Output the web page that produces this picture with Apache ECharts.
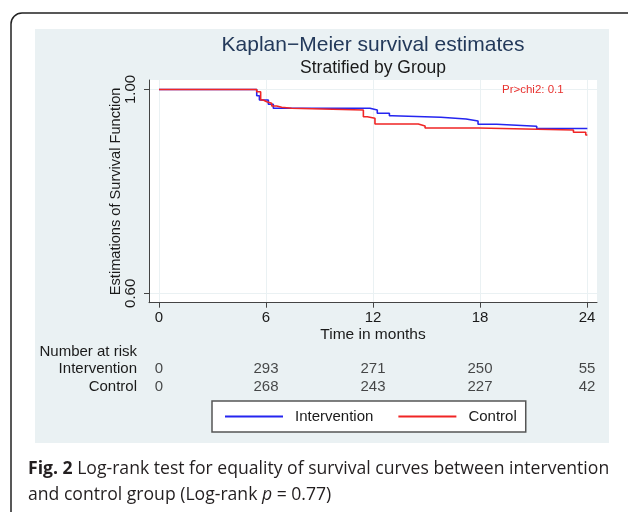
<!DOCTYPE html>
<html>
<head>
<meta charset="utf-8">
<script src="https://cdn.jsdelivr.net/npm/echarts@6/dist/echarts.min.js"></script>
<style>html,body{margin:0;padding:0;background:#fff;}#c{width:628px;height:512px;}</style>
</head>
<body>
<div id="c"></div>
<script>
// ---- data ----
const xTicks = [0, 6, 12, 18, 24];
const yTicks = [0.6, 1.0];
const groups = ['Intervention', 'Control'];
// Kaplan-Meier step points [month, survival]
const interventionKM = [
  [0, 1.0], [5.48, 0.9878], [5.63, 0.9794], [6.13, 0.9710], [6.41, 0.9631],
  [11.83, 0.9598], [12.24, 0.9533], [12.92, 0.9486], [13.08, 0.9454],
  [15.80, 0.9421], [17.22, 0.9382], [17.89, 0.9317], [18.94, 0.9278],
  [21.18, 0.9235], [24.02, 0.9235]
];
const controlKM = [
  [0, 1.0], [5.48, 0.9957], [5.70, 0.9794], [5.85, 0.9761], [6.04, 0.9729],
  [6.32, 0.9676], [6.60, 0.9651], [6.88, 0.9631], [7.44, 0.9598],
  [11.46, 0.9466], [11.68, 0.9435], [12.11, 0.9323], [14.54, 0.9284],
  [14.92, 0.9244], [17.91, 0.9205], [23.24, 0.9160], [23.93, 0.9107],
  [24.02, 0.9107]
];
const riskTimes = [0, 6, 12, 18, 24];
const riskIntervention = [0, 293, 271, 250, 55];
const riskControl = [0, 268, 243, 227, 42];

const chart = echarts.init(document.getElementById('c'), null, {renderer: 'canvas'});
const FONT = 'Liberation Sans';
const txt = '#1a1a1a';
const CAP = 'Open Sans';

function riskData(vals, row) {
  return riskTimes.map((t, i) => [t, row, vals[i]]);
}

const option = {
  backgroundColor: '#ffffff',
  animation: false,
  textStyle: {fontFamily: FONT},
  graphic: [
    {type: 'rect', z: -10, shape: {x: 11, y: 13, width: 640, height: 520, r: 11},
     style: {fill: '#ffffff', stroke: '#222', lineWidth: 1.5}},
    {type: 'rect', z: -9, shape: {x: 35, y: 29, width: 574, height: 414},
     style: {fill: '#eaf1f3'}},
    {type: 'text', x: 373, y: 45, style: {text: 'Kaplan\u2212Meier survival estimates', fontFamily: FONT, fontSize: 21, fill: '#23395a', align: 'center', verticalAlign: 'middle'}},
    {type: 'text', x: 373, y: 68, style: {text: 'Stratified by Group', fontFamily: FONT, fontSize: 17.5, fill: txt, align: 'center', verticalAlign: 'middle'}},
    {type: 'text', z: 100, x: 502, y: 90, style: {text: 'Pr>chi2: 0.1', fontFamily: FONT, fontSize: 11.5, fill: '#e8322f', align: 'left', verticalAlign: 'middle'}},
    {type: 'text', x: 137, y: 352, style: {text: 'Number at risk', fontFamily: FONT, fontSize: 15, fill: txt, align: 'right', verticalAlign: 'middle'}},
    {type: 'text', x: 28, y: 469, style: {
      text: '{b|Fig. 2} Log-rank test for equality of survival curves between intervention',
      fontFamily: CAP, fontSize: 17.6, fill: '#231f20', verticalAlign: 'middle',
      rich: {b: {fontWeight: 'bold', fontFamily: CAP, fontSize: 17.6, fill: '#231f20'}}}},
    {type: 'text', x: 28, y: 495, style: {
      text: 'and control group (Log-rank {i|p} = 0.77)',
      fontFamily: CAP, fontSize: 17.6, fill: '#231f20', verticalAlign: 'middle',
      rich: {i: {fontStyle: 'italic', fontFamily: CAP, fontSize: 17.6, fill: '#231f20'}}}}
  ],
  legend: {
    data: groups,
    left: 212, top: 401,
    padding: [8, 9, 8, 13],
    backgroundColor: '#ffffff',
    borderColor: '#555', borderWidth: 1.5,
    icon: 'rect', itemWidth: 58, itemHeight: 2, itemGap: 25,
    textStyle: {fontFamily: FONT, fontSize: 15, color: txt, padding: [0, 0, 0, 7]}
  },
  grid: [
    {left: 149, top: 80, width: 448, height: 222.7, show: true, backgroundColor: '#ffffff', borderWidth: 0},
    {left: 149, top: 360, width: 448, height: 36, show: false}
  ],
  xAxis: [
    {type: 'value', gridIndex: 0, min: -0.561, max: 24.561,
     axisLine: {show: true, onZero: false, lineStyle: {color: '#444', width: 1}},
     axisTick: {show: true, customValues: xTicks, length: 5, lineStyle: {color: '#444'}},
     axisLabel: {customValues: xTicks, fontSize: 15, color: txt, margin: 8, fontFamily: FONT},
     splitLine: {show: true, lineStyle: {color: '#eaf1f3', width: 1}},
     name: 'Time in months', nameLocation: 'middle', nameGap: 24, nameMoveOverlap: false,
     nameTextStyle: {fontSize: 15.5, color: txt, fontFamily: FONT}},
    {type: 'value', gridIndex: 1, min: -0.561, max: 24.561, show: false}
  ],
  yAxis: [
    {type: 'value', gridIndex: 0, min: 0.5816, max: 1.01865,
     axisLine: {show: true, onZero: false, lineStyle: {color: '#444', width: 1}},
     axisTick: {show: true, customValues: yTicks, length: 5, lineStyle: {color: '#444'}},
     axisLabel: {customValues: yTicks, rotate: 90, fontSize: 15, color: txt, margin: 11, fontFamily: FONT,
       formatter: v => v.toFixed(2)},
     splitLine: {show: true, lineStyle: {color: '#eaf1f3', width: 1}},
     name: 'Estimations of Survival Function', nameLocation: 'middle', nameGap: 26, nameMoveOverlap: false,
     nameTextStyle: {fontSize: 14.6, color: txt, fontFamily: FONT}},
    {type: 'category', gridIndex: 1, data: groups, inverse: true,
     axisLine: {show: false}, axisTick: {show: false},
     axisLabel: {interval: 0, fontSize: 15, color: txt, margin: 12, fontFamily: FONT}}
  ],
  series: [
    {name: 'Intervention', type: 'line', step: 'end', xAxisIndex: 0, yAxisIndex: 0,
     data: interventionKM, showSymbol: false, symbol: 'none', color: '#2525f0',
     lineStyle: {color: '#2525f0', width: 1.6}, z: 3},
    {name: 'Control', type: 'line', step: 'end', xAxisIndex: 0, yAxisIndex: 0,
     data: controlKM, showSymbol: false, symbol: 'none', color: '#f02525',
     lineStyle: {color: '#f02525', width: 1.6}, z: 4},
    {name: 'riskI', type: 'scatter', xAxisIndex: 1, yAxisIndex: 1,
     data: riskData(riskIntervention, 0), symbolSize: 1, itemStyle: {color: 'rgba(0,0,0,0)'},
     label: {show: true, position: 'inside', formatter: p => p.value[2], fontSize: 15, color: txt, fontFamily: FONT}},
    {name: 'riskC', type: 'scatter', xAxisIndex: 1, yAxisIndex: 1,
     data: riskData(riskControl, 1), symbolSize: 1, itemStyle: {color: 'rgba(0,0,0,0)'},
     label: {show: true, position: 'inside', formatter: p => p.value[2], fontSize: 15, color: txt, fontFamily: FONT}}
  ]
};
chart.setOption(option);
</script>
</body>
</html>
